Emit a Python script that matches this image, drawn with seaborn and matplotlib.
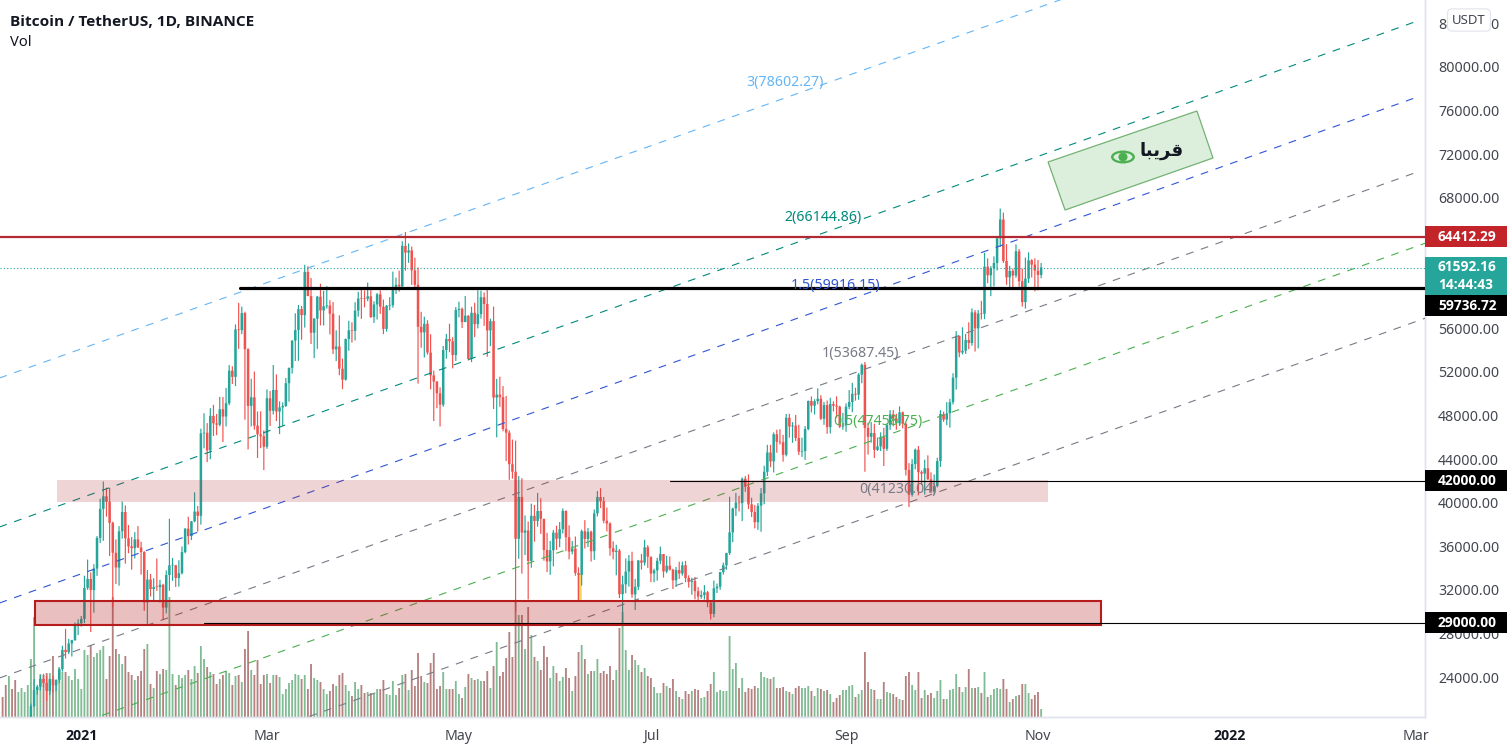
import matplotlib
matplotlib.use("Agg")
import matplotlib.pyplot as plt
import numpy as np
import pandas as pd
import seaborn as sns
from matplotlib.colors import to_rgba
from matplotlib.patches import Ellipse, Polygon, Rectangle

# ============================================================
# DATA
# ============================================================
FIRST_DATE = "2020-12-07"
FIRST_OPEN = 19359

CLOSE = [
    19166, 18324, 18541, 18254, 18036, 18808, 19174, 19273, 19426,
    21335, 22797, 23107, 23821, 23455, 22719, 23810, 23232, 23729, 24712, 26493, 26281, 27079, 27385, 28875, 28923,
    # 2021 Jan
    29331, 32178, 33000, 31988, 33949, 36769, 39432, 40582, 40088, 38150, 35404, 34051, 37371, 39144, 36742, 35994,
    35828, 36631, 35891, 35468, 30850, 32945, 32078, 32259, 32254, 32467, 30366, 33364, 34252, 34262, 33092,
    # Feb
    33526, 35466, 37618, 36936, 38290, 39186, 38795, 46374, 46420, 44807, 47969, 47287, 47153, 48577,
    47911, 49133, 52119, 51552, 55906, 55841, 57408, 54087, 48891, 49676, 47073, 46276, 46106, 45135,
    # Mar
    49587, 48440, 50350, 48374, 48751, 48882, 50971, 52375, 54884, 55851, 57773, 57221, 61188, 58968, 55605, 56900,
    58912, 57648, 58030, 58102, 57351, 54083, 54340, 52303, 51293, 55025, 55817, 55777, 57635, 58746, 58740,
    # Apr
    58720, 58950, 57051, 58202, 59129, 57991, 55953, 58077, 58130, 59770, 60007, 59860, 63575, 62959, 63159,
    61334, 60006, 56150, 55633, 56425, 53787, 51690, 51125, 50047, 49004, 54021, 55033, 54824, 53555, 57697,
    # May
    57797, 56578, 57169, 53200, 57436, 56393, 57314, 58862, 58240, 55816, 56670, 49650, 49922, 49690, 46762, 46431,
    43538, 42849, 36690, 40526, 37252, 37449, 34655, 38796, 38324, 39241, 38529, 35664, 34605, 35641, 37253,
    # Jun
    36693, 37568, 39246, 36829, 35513, 35796, 33552, 33380, 37388, 36675, 37331, 35546, 39020, 40516, 40144,
    38349, 38092, 35820, 35483, 35600, 31608, 32509, 33678, 34663, 31584, 32283, 34700, 34494, 35911, 35045,
    # Jul
    33504, 33786, 34669, 35286, 33690, 34220, 33862, 32875, 33815, 33502, 34259, 33086, 32729, 32820, 31880, 31383,
    31520, 31778, 30839, 29790, 32144, 32287, 33634, 34258, 35381, 37276, 39473, 40016, 39960, 42206, 41461,
    # Aug
    39845, 39147, 38207, 39723, 40862, 42836, 44614, 43792, 46285, 45593, 45551, 44399, 47800, 47000, 47081, 45936,
    44686, 44741, 46760, 49339, 48905, 49321, 49546, 47706, 48960, 46942, 49058, 48903, 48812, 46991, 47100,
    # Sep
    48810, 49246, 49999, 49915, 51756, 52663, 46863, 46048, 46395, 44851, 45171, 46026, 44947, 47128, 48122,
    47737, 47299, 48293, 47241, 43016, 40734, 43543, 44865, 42810, 42670, 43160, 42147, 41026, 41524, 43824,
    # Oct
    48141, 47634, 48200, 49224, 51471, 55315, 53785, 53951, 54949, 54659, 57471, 56005, 57367, 57347, 61672, 60875,
    61528, 62009, 64280, 66001, 62193, 60688, 61286, 60852, 63078, 60328, 58413, 60575, 62253, 61859, 61300,
    # Nov
    60911, 61592,
]

HIGH = [
    19420, 19294, 18640, 18557, 18292, 18948, 19411, 19349, 19570,
    21560, 23800, 23285, 24171, 24295, 24102, 23837, 24100, 23794, 24789, 26867, 28422, 27500, 27410, 28996, 29300,
    29600, 33300, 34778, 33600, 34360, 36939, 40365, 41950, 41380, 41350, 38264, 36628, 37850, 40100, 39747, 37950,
    36852, 37299, 37850, 36415, 35552, 33826, 33456, 33071, 34875, 32921, 32557, 33783, 38531, 34934, 34288,
    34717, 35984, 37662, 38708, 38310, 40955, 39700, 46794, 48215, 47310, 48678, 48985, 48150, 49707,
    49700, 50526, 52640, 52530, 56368, 58352, 58000, 57533, 54183, 51374, 52041, 48370, 48394, 46638,
    50400, 50250, 52640, 51773, 49300, 49212, 51450, 52402, 54900, 57387, 58150, 58058, 61844, 61700, 60633, 56938,
    58981, 60100, 59450, 59880, 58592, 58420, 55830, 57200, 53230, 55073, 56700, 56559, 58405, 59368, 59800,
    59490, 60200, 59791, 58492, 59251, 59500, 58650, 58153, 58869, 61215, 60658, 61300, 64000, 64854, 63800,
    63520, 62500, 61591, 57526, 57076, 56757, 55470, 52130, 51166, 50591, 54400, 55500, 56428, 55195, 57963,
    58458, 57911, 58981, 57200, 58000, 58360, 59500, 59464, 59300, 59595, 56900, 58000, 51367, 51560, 50700, 49800,
    46643, 45800, 45700, 42451, 42250, 38829, 38270, 39920, 39791, 40900, 40411, 38200, 37234, 36488, 37499,
    37894, 38225, 39476, 39289, 37925, 36480, 36900, 34068, 37534, 38400, 37680, 37439, 39380, 41064, 41330,
    40527, 39559, 38200, 36457, 36139, 35750, 33298, 34881, 35200, 35500, 33000, 34749, 35297, 36600, 36100,
    35036, 33939, 34945, 35967, 35284, 35118, 35059, 33929, 34100, 34584, 34592, 34662, 33340, 33114, 33185, 32250,
    31940, 32435, 31899, 31063, 32858, 32576, 33650, 34500, 35398, 40550, 39542, 40900, 40640, 42316, 42448,
    42599, 40459, 39780, 39969, 41350, 43392, 45310, 45310, 46454, 46700, 46743, 46218, 48144, 48165, 47399, 48053,
    47160, 45969, 47033, 49382, 49757, 49500, 50500, 49875, 49248, 49382, 49632, 49309, 49757, 48909, 48246,
    49125, 50343, 51000, 50558, 51900, 52780, 52920, 47340, 47399, 47250, 45985, 46460, 46876, 47250, 48500,
    48500, 48160, 48843, 48372, 47356, 43639, 44000, 44978, 45200, 42966, 43950, 44350, 42787, 42590, 44132,
    48495, 48358, 49228, 49536, 51886, 55750, 55332, 56100, 55489, 56561, 57839, 57680, 57687, 58532, 62933, 62437,
    61720, 62614, 64486, 67000, 66639, 63732, 61747, 61490, 63710, 63293, 61496, 62499, 62980, 62359, 62437,
    62278, 62000,
]

LOW = [
    18900, 18200, 17650, 17911, 17572, 18020, 18711, 19000, 19050,
    19290, 21230, 22350, 22750, 23060, 21815, 22353, 22600, 22703, 23433, 24500, 25700, 26101, 25880, 27320, 27850,
    28624, 28946, 32000, 28130, 29900, 33288, 36300, 36500, 38720, 35111, 30420, 32531, 32380, 36701, 34408, 35357,
    33850, 34883, 35844, 33400, 30071, 28850, 31390, 30900, 31910, 30837, 29241, 29842, 31915, 32825, 32270,
    32296, 33418, 35362, 36161, 36570, 38215, 37351, 37988, 45000, 43727, 43994, 46125, 46202, 47014,
    45570, 47003, 48947, 50901, 50710, 54120, 55477, 47622, 44892, 47003, 46700, 44106, 45000, 43000,
    44950, 47047, 48100, 47500, 46300, 47070, 48800, 49274, 51846, 53005, 53024, 54962, 56078, 58966, 54568, 53271,
    54123, 56270, 56270, 57820, 55450, 53650, 53000, 51700, 50427, 51214, 53950, 54701, 54900, 57072, 56873,
    57935, 58500, 56956, 56500, 56817, 57333, 55473, 55700, 57670, 57903, 59177, 59369, 59791, 61301, 62020,
    60000, 59580, 50931, 54221, 53329, 53600, 50400, 47500, 48676, 47000, 48807, 53222, 53813, 52330, 53013,
    57014, 56035, 56900, 53057, 52900, 55200, 56000, 56900, 56235, 53400, 54370, 48600, 46000, 48805, 46555, 43825,
    42101, 42207, 30000, 34850, 33488, 35200, 31111, 34031, 36419, 37800, 37134, 34684, 33632, 33379, 34153,
    35666, 35920, 37170, 35555, 34800, 35258, 33300, 31000, 32396, 35800, 35936, 34600, 34757, 38732, 39506,
    38116, 37365, 35129, 34803, 33336, 31251, 28805, 31683, 32300, 31275, 30151, 31973, 33862, 34231, 34017,
    32711, 32699, 32850, 34357, 33125, 33532, 33777, 32077, 32261, 33004, 33306, 32700, 32202, 31550, 31133, 31020,
    31178, 31108, 30407, 29278, 29482, 31708, 32000, 33401, 33851, 35205, 36383, 38772, 39200, 38313, 41000,
    39422, 38690, 37642, 37508, 37332, 39853, 42450, 43261, 42779, 44589, 45341, 43770, 44250, 45971, 45500, 45660,
    44376, 44205, 43927, 46644, 48285, 48102, 49029, 47600, 47150, 46323, 46360, 48370, 47800, 46853, 46700,
    46512, 48584, 48316, 49370, 49450, 50969, 42843, 44412, 45514, 44102, 44750, 44742, 43370, 44750, 46682,
    47016, 46699, 47044, 46829, 42500, 39600, 40565, 43063, 40675, 41646, 40750, 42098, 40888, 40753, 41410,
    43283, 47429, 47120, 46891, 49020, 50382, 53357, 53617, 53661, 54090, 54415, 53879, 54167, 56818, 56850, 60150,
    58963, 59847, 61322, 63482, 62000, 60000, 59668, 59522, 60650, 59817, 58000, 57820, 60174, 60673, 59405,
    59500, 60600,
]

# relative volume, scaled so the tallest bars reach the lower red zone
VOLUME = [
    20, 32, 41, 28, 37, 25, 29, 25, 32, 58, 100,
    30, 43, 42, 44, 44, 61, 37, 50, 45, 45, 41, 37, 48, 38,
    28, 67, 62, 72, 60, 64, 67, 71, 38, 61, 120, 68, 63, 53, 61, 45, 42, 37, 41, 46, 68, 73, 33, 29, 46, 43, 48, 47, 120, 43, 32,
    42, 39, 42, 47, 38, 51, 44, 71, 58, 50, 45, 43, 33, 38, 42, 46, 44, 32, 41, 42, 35, 68, 86, 47, 42, 57, 33, 42,
    43, 34, 42, 42, 40, 23, 28, 34, 37, 43, 42, 38, 42, 28, 53, 39, 37, 35, 28, 23, 26, 33, 31, 42, 44, 32, 26, 21, 35, 28, 32,
    24, 25, 24, 23, 28, 28, 37, 23, 22, 36, 22, 29, 42, 43, 27, 47, 31, 64, 41, 35, 34, 54, 64, 28, 31, 45, 28, 28, 28, 36,
    23, 19, 30, 43, 39, 37, 38, 36, 36, 46, 29, 51, 75, 41, 45, 59, 85, 60, 116, 102, 102, 68, 110, 82, 60, 56, 47, 71, 60, 39, 51,
    44, 36, 40, 49, 39, 26, 41, 65, 72, 58, 43, 46, 46, 58, 44, 46, 43, 51, 37, 47, 89, 105, 67, 47, 62, 57, 52, 45, 49, 41,
    39, 30, 24, 24, 34, 31, 29, 38, 26, 20, 18, 26, 23, 26, 28, 27, 19, 20, 26, 33, 45, 25, 27, 26, 26, 81, 48, 54, 29, 39, 25,
    29, 28, 31, 29, 45, 40, 39, 38, 40, 29, 29, 30, 26, 25, 23, 29, 31, 29, 29, 31, 26, 21, 29, 28, 26, 27, 23, 15, 19, 22, 27,
    27, 31, 32, 20, 23, 27, 65, 35, 28, 27, 18, 18, 35, 25, 24, 23, 20, 18, 17, 41, 45, 32, 27, 45, 19, 27, 22, 24, 19, 26,
    37, 18, 18, 27, 28, 43, 30, 25, 30, 48, 29, 29, 30, 24, 45, 20, 22, 28, 29, 28, 38, 28, 15, 18, 21, 22, 33, 33, 24, 18, 22,
    25, 8,
]

PRICE_TICKS = [24000, 28000, 32000, 36000, 40000, 44000, 48000, 52000, 56000, 68000, 72000, 76000, 80000, 84000]
TIME_TICKS = ["2021-01-01", "2021-03-01", "2021-05-01", "2021-07-01", "2021-09-01", "2021-11-01", "2022-01-01", "2022-03-01"]
TIME_LABELS = ["2021", "Mar", "May", "Jul", "Sep", "Nov", "2022", "Mar"]

# fib channel: label, level, colour, label day, line start price, end day, end price
LEVEL_LABELS = ["3(78602.27)", "2(66144.86)", "1.5(59916.15)", "1(53687.45)", "0.5(47458.75)", "0(41230.04)"]
LEVEL_VALUES = [78602.27, 66144.86, 59916.15, 53687.45, 47458.75, 41230.04]
LEVEL_COLORS = ["#64b5f6", "#00897b", "#2f55d4", "#787b86", "#4caf50", "#787b86"]
LEVEL_LABEL_DAY = [223.6, 235.7, 239.5, 247.6, 253, 259.5]
CHANNEL_START = [51448, 37770, 30793, 23908, 17115, 10230]
CHANNEL_END_DAY = [425, 425, 425, 425, 427, 427]
CHANNEL_END = [97899, 84267, 77290, 70405, 63818, 56933]

RED = "#b22833"
UP = "#26a69a"
DOWN = "#ef5350"
TEXT = "#43464f"
BORDER = "#e0e3eb"
FONT = "Noto Sans"
BOLD_FONT = "Open Sans"

# ============================================================
# FIGURE
# ============================================================
sns.set_theme(style="white")
plt.rcParams["font.family"] = [FONT, "DejaVu Sans"]

dates = pd.date_range(FIRST_DATE, periods=len(CLOSE))
start = pd.Timestamp("2021-01-01")
days = np.array((dates - start).days)
close = np.array(CLOSE, dtype=float)
high = np.array(HIGH, dtype=float)
low = np.array(LOW, dtype=float)
# crypto daily candles open where the previous one closed
open_ = np.r_[FIRST_OPEN, close[:-1]]
rising = close >= open_

fig = plt.figure(figsize=(15.12, 7.52), dpi=100, facecolor="white")
ax = fig.add_axes([0, 35 / 752, 1425 / 1512, 717 / 752])
ax_vol = ax.twinx()
ax.set_zorder(ax_vol.get_zorder() + 1)
ax.patch.set_visible(False)

# volume
vol_df = pd.DataFrame({"day": days, "volume": VOLUME, "side": np.where(rising, "up", "down")})
sns.barplot(
    data=vol_df, x="day", y="volume", hue="side", palette={"up": "#7fbb93", "down": "#b58080"},
    native_scale=True, dodge=False, width=0.58, saturation=1, errorbar=None, legend=False,
    linewidth=0, ax=ax_vol,
)
# snapping makes the bars alternate between one and two pixels
for bar in ax_vol.patches:
    bar.set_snap(False)
ax_vol.set_ylim(0, 717)
ax_vol.set_yticks([])
ax_vol.set_ylabel("")
ax_vol.set_xlabel("")

# candles
colors = np.where(rising, UP, DOWN)
highlight_day = (pd.Timestamp("2021-06-08") - start).days
ax.bar(highlight_day, 33547 - 31069, bottom=31069, width=1.9, color="#fbd85a", zorder=1.5)
wicks = ax.vlines(days, low, high, colors=colors, linewidth=0.85, zorder=2)
wicks.set_snap(False)
bodies = ax.bar(days, np.maximum(np.abs(close - open_), 60), bottom=np.minimum(open_, close),
                width=0.8, color=colors, linewidth=0, zorder=2.1)
for body in bodies:
    body.set_snap(False)

# fib channel
for value, label, color, label_day, p0, end_day, p1 in zip(
    LEVEL_VALUES, LEVEL_LABELS, LEVEL_COLORS, LEVEL_LABEL_DAY, CHANNEL_START, CHANNEL_END_DAY, CHANNEL_END
):
    ax.plot([-26, end_day], [p0, p1], color=color, linewidth=0.8, linestyle=(0, (7, 7)), zorder=3)
    ax.text(label_day, value, label, color=color, fontsize=10.2, ha="center", va="center", zorder=5)

# zones
ax.add_patch(Rectangle((-7.7, 40065), 314.9, 2019, facecolor=to_rgba(RED, 0.2), edgecolor="none", zorder=4))
ax.add_patch(Rectangle((-14.7, 28774), 338.7, 2203, facecolor=to_rgba("#b71c1c", 0.28),
                       edgecolor="#b71c1c", linewidth=1.5, zorder=4))

# horizontal levels
ax.axhline(64412.29, color=RED, linewidth=1.6, zorder=4)
ax.axhline(61592.16, color=UP, linewidth=0.8, linestyle=(0, (1, 2)), zorder=4)
ax.plot([50.4, 427], [59736.72, 59736.72], color="black", linewidth=2.3, zorder=4)
ax.plot([187, 427], [42000, 42000], color="black", linewidth=0.8, zorder=4)
ax.plot([39, 427], [29000, 29000], color="black", linewidth=0.8, zorder=4)

# green note
ax.add_patch(Polygon([(307.2, 71277), (354.5, 75959), (359.6, 71644), (312.6, 66871)], closed=True,
                     facecolor="#dcefdc", edgecolor="#74b274", linewidth=0.9, zorder=4))
ax.add_patch(Ellipse((331, 71736), 7.6, 1190, facecolor="#4caf50", edgecolor="none", zorder=5))
ax.add_patch(Ellipse((331, 71736), 6.0, 760, facecolor="#dcefdc", edgecolor="none", zorder=5.1))
ax.add_patch(Ellipse((331, 71736), 2.9, 800, facecolor="#4caf50", edgecolor="none", zorder=5.2))
# matplotlib does not shape Arabic, so the word is in presentation forms, in visual order
ax.text(343.3, 72290, "\ufe8e\ufe92\ufef3\ufeae\ufed7", fontsize=13, fontweight="bold", family="DejaVu Sans",
        color="#131722", ha="center", va="center", zorder=5)

# axes
ax.set_xlim(-25.83, 426.97)
ax.set_ylim(20328, 86149)
ax.yaxis.tick_right()
ax.set_yticks(PRICE_TICKS, [f"{p:.2f}" for p in PRICE_TICKS])
tick_days = [(pd.Timestamp(t) - start).days for t in TIME_TICKS]
ax.set_xticks(tick_days, TIME_LABELS)
ax.tick_params(axis="y", length=0, pad=9.5, labelsize=10.2, labelcolor=TEXT, labelright=True, labelleft=False)
ax.tick_params(axis="x", length=0, pad=8.5, labelsize=10.2, labelcolor=TEXT)
for tick in ax.get_xticklabels():
    if tick.get_text().isdigit():
        tick.set_fontweight("bold")
        tick.set_family(BOLD_FONT)
        tick.set_color("#131722")
for a in (ax, ax_vol):
    sns.despine(ax=a, left=True, top=True, right=False, bottom=False)
    a.spines["right"].set_color(BORDER)
    a.spines["bottom"].set_color(BORDER)
    a.spines["right"].set_linewidth(1)
    a.spines["bottom"].set_linewidth(1)

# price badges on the scale
scale = ax.get_yaxis_transform()
badges = [
    (63447, 1928, "#c2242a", ["64412.29"], [64412.29]),
    (58976, 3580, UP, ["61592.16", "14:44:43"], [61640, 59990]),
    (57100, 1928, "black", ["59736.72"], [58060]),
    (41040, 1928, "black", ["42000.00"], [42000]),
    (28040, 1928, "black", ["29000.00"], [29000]),
]
for bottom, height, color, texts, ys in badges:
    ax.add_patch(Rectangle((1.0, bottom), 82 / 1425, height, transform=scale, facecolor=color,
                           edgecolor="none", clip_on=False, zorder=6))
    for text, y in zip(texts, ys):
        ax.text(1 + 13 / 1425, y, text, transform=scale, color="white", fontsize=9.9, fontweight="bold",
                family=BOLD_FONT, ha="left", va="center", clip_on=False, zorder=7)

# headers
fig.text(10 / 1512, 1 - 22 / 752, "Bitcoin / TetherUS, 1D, BINANCE", fontsize=11.1, fontweight="bold",
         family=BOLD_FONT, color="#131722", ha="left", va="center")
fig.text(10 / 1512, 1 - 42 / 752, "Vol", fontsize=10.6, color="#131722", ha="left", va="center")
fig.text(1469 / 1512, 1 - 20 / 752, "USDT", fontsize=9.5, color=TEXT, ha="center", va="center", zorder=8,
         bbox=dict(boxstyle="round,pad=0.35", facecolor="white", edgecolor=BORDER, linewidth=0.8))

fig.savefig("out.png", dpi=100, facecolor="white")
plt.close(fig)
